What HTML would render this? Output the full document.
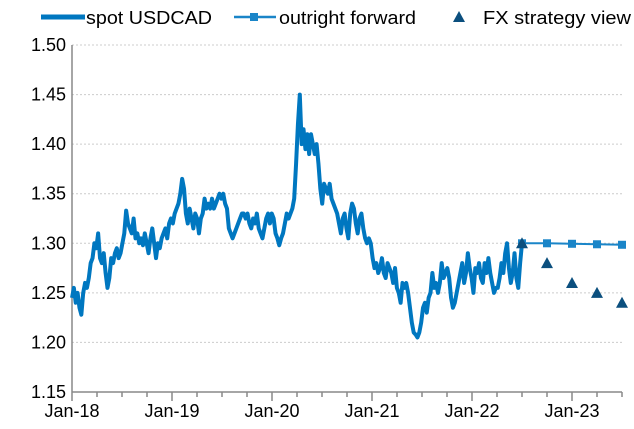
<!DOCTYPE html>
<html><head><meta charset="utf-8"><style>
body{margin:0;background:#fff;}
svg{display:block;font-family:"Liberation Sans",Arial,sans-serif;}
</style></head><body>
<svg id="chart" width="634" height="429">
<g id="grid"></g><g id="axes"></g><g id="series"></g>
<g font-size="18" fill="#000">
 <g>
  <line x1="41" y1="17" x2="85" y2="17" stroke="#0077c0" stroke-width="5"/>
  <text x="86" y="24" textLength="126" lengthAdjust="spacingAndGlyphs">spot USDCAD</text></g>
 <g>
  <line x1="234" y1="17" x2="276" y2="17" stroke="#1a85c8" stroke-width="2.5"/>
  <rect x="250" y="13" width="8" height="8" fill="#1a85c8"/>
  <text x="279" y="24" textLength="137" lengthAdjust="spacingAndGlyphs">outright forward</text></g>
 <g>
  <polygon points="459,11 465,22 453,22" fill="#0b4f7e"/>
  <text x="483" y="24" textLength="148" lengthAdjust="spacingAndGlyphs">FX strategy view</text></g>
</g>
</svg>
<script>
const yTicks=[1.15,1.20,1.25,1.30,1.35,1.40,1.45,1.50];
const xLabels=["Jan-18","Jan-19","Jan-20","Jan-21","Jan-22","Jan-23"];
// weekly spot values, Jan-18 .. Jul-22
const spot=[1.245,1.255,1.24,1.25,1.235,1.228,1.25,1.26,1.255,1.265,1.28,1.285,1.30,1.295,1.31,1.285,
1.28,1.29,1.27,1.255,1.265,1.285,1.28,1.29,1.295,1.285,1.29,1.30,1.31,1.333,1.32,1.315,
1.31,1.325,1.305,1.31,1.30,1.305,1.298,1.31,1.30,1.29,1.305,1.315,1.30,1.285,1.30,1.295,
1.305,1.31,1.315,1.305,1.32,1.325,1.32,1.33,1.335,1.34,1.35,1.365,1.355,1.33,1.32,1.335,
1.325,1.315,1.33,1.325,1.31,1.325,1.33,1.345,1.335,1.34,1.335,1.345,1.335,1.34,1.345,1.35,
1.345,1.35,1.34,1.335,1.315,1.31,1.305,1.31,1.315,1.32,1.325,1.33,1.33,1.325,1.33,1.32,
1.315,1.325,1.32,1.33,1.315,1.31,1.305,1.315,1.325,1.33,1.32,1.33,1.325,1.31,1.305,1.298,
1.305,1.31,1.32,1.33,1.325,1.33,1.335,1.345,1.38,1.42,1.45,1.40,1.415,1.395,1.41,1.39,
1.41,1.40,1.39,1.40,1.38,1.355,1.34,1.36,1.355,1.35,1.36,1.345,1.34,1.335,1.33,1.32,
1.31,1.325,1.33,1.315,1.305,1.33,1.34,1.335,1.32,1.31,1.325,1.33,1.315,1.305,1.30,1.305,
1.30,1.285,1.275,1.28,1.27,1.275,1.285,1.27,1.265,1.28,1.275,1.27,1.26,1.275,1.255,1.25,
1.24,1.26,1.255,1.26,1.25,1.235,1.22,1.21,1.208,1.205,1.21,1.22,1.235,1.24,1.23,1.245,
1.25,1.27,1.255,1.26,1.25,1.26,1.28,1.265,1.27,1.275,1.265,1.245,1.235,1.24,1.25,1.26,
1.27,1.28,1.26,1.27,1.29,1.275,1.265,1.25,1.275,1.27,1.28,1.265,1.26,1.28,1.27,1.285,
1.27,1.26,1.25,1.255,1.255,1.265,1.28,1.27,1.29,1.30,1.275,1.26,1.27,1.29,1.265,1.255,
1.28,1.30];
const fwdMonths=[54,57,60,63,66];
const fwdValues=[1.300,1.300,1.2995,1.299,1.2985];
const viewMonths=[54,57,60,63,66];
const viewValues=[1.30,1.28,1.26,1.25,1.24];
const NS="http://www.w3.org/2000/svg";
const X0=72,X1=622,PX=100/12,Y0=392,Y1=45;
const xs=m=>X0+m*PX;
const ys=v=>Y0-(v-1.15)/(1.50-1.15)*(Y0-Y1);
function mk(t,a,p){const e=document.createElementNS(NS,t);for(const k in a)e.setAttribute(k,a[k]);p.appendChild(e);return e;}
const grid=document.getElementById('grid'),axes=document.getElementById('axes'),ser=document.getElementById('series');
yTicks.forEach(v=>{
 if(v>1.15){const l=mk('line',{x1:X0,x2:X1,y1:ys(v),y2:ys(v),stroke:'#ccc','stroke-dasharray':'2,2'},grid);
 
 }
 const t=mk('text',{x:X0-6,y:ys(v)+6,'text-anchor':'end','font-size':'18'},axes);t.textContent=v.toFixed(2);
 
 
});
mk('line',{x1:X0,x2:X0,y1:Y1,y2:Y0,stroke:'#888','stroke-width':1.5},axes);
mk('line',{x1:X0,x2:X1,y1:Y0,y2:Y0,stroke:'#888','stroke-width':1.5},axes);
for(let m=0;m<=66;m+=3){mk('line',{x1:xs(m),x2:xs(m),y1:Y0,y2:Y0+(m%12?5:9),stroke:'#888','stroke-width':1.5},axes);}
xLabels.forEach((s,i)=>{const t=mk('text',{x:xs(i*12),y:Y0+25,'text-anchor':'middle','font-size':'18'},axes);t.textContent=s;
 
 });
const step=54/(spot.length-1);
const sp=mk('polyline',{points:spot.map((v,i)=>xs(i*step)+','+ys(v)).join(' '),fill:'none',stroke:'#0077c0','stroke-width':4,'stroke-linejoin':'round'},ser);


const fl=mk('polyline',{points:fwdValues.map((v,i)=>xs(fwdMonths[i])+','+ys(v)).join(' '),fill:'none',stroke:'#1a85c8','stroke-width':2},ser);


fwdValues.forEach((v,i)=>{const r=mk('rect',{x:xs(fwdMonths[i])-4,y:ys(v)-4,width:8,height:8,fill:'#1a85c8'},ser);
 
 });
viewValues.forEach((v,i)=>{const x=xs(viewMonths[i]),y=ys(v);
 const p=mk('polygon',{points:`${x},${y-6} ${x+6},${y+5} ${x-6},${y+5}`,fill:'#0b4f7e'},ser);
 
 });
</script>
</body></html>
